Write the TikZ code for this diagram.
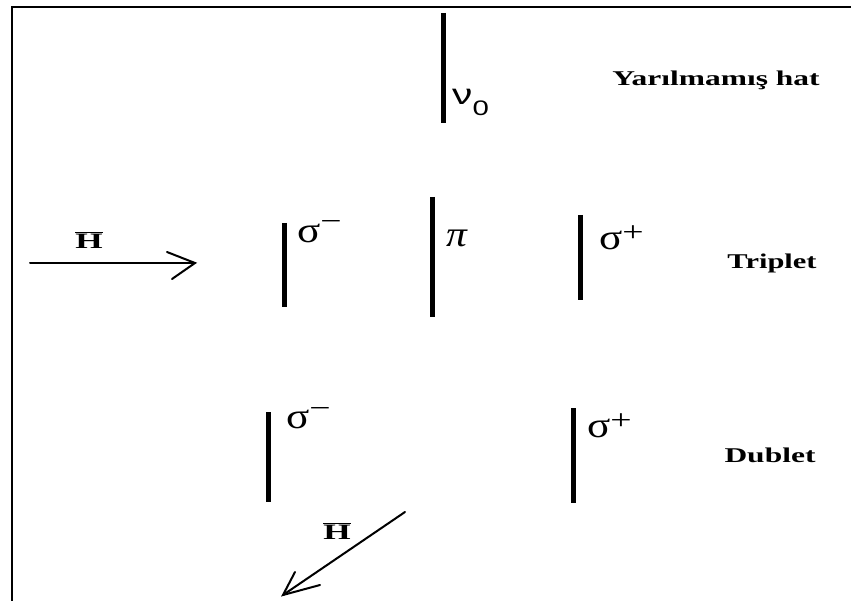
\documentclass[tikz,border=0pt]{standalone}
\usepackage{fontspec}
\setmainfont{Liberation Serif}
\newfontfamily\sansf{Liberation Sans}
\usepackage{graphicx}
\newcommand{\wide}[2][1.55]{\scalebox{#1}[1]{#2}}
\newcommand{\fieldH}{$\overline{\mbox{\bfseries H}}$}
\newcommand{\sigsup}[2]{\wide[1.2]{σ}\raisebox{#2}{\wide[1.35]{\fontsize{28}{28}\selectfont #1}}}
\begin{document}
\begin{tikzpicture}[x=1pt,y=-1pt,
  bar/.style={line width=5pt},
  framel/.style={line width=2pt},
  arr/.style={line width=2pt, line cap=round},
  lbl/.style={inner sep=0pt, font=\bfseries\fontsize{21}{21}\selectfont},
  hlbl/.style={inner sep=0pt, font=\fontsize{22}{22}\selectfont},
  greek/.style={inner sep=0pt, font=\fontsize{36}{36}\selectfont}]
\useasboundingbox (0,0) rectangle (851,601);
% frame (top and left edges)
\coordinate (fbl) at (12,601);
\coordinate (ftl) at (12,7);
\coordinate (ftr) at (851,7);
\draw[framel] (fbl) -- (ftl) -- (ftr);

% unsplit line
\coordinate (n0t) at (443,13); \coordinate (n0b) at (443,123);
\draw[bar] (n0t) -- (n0b);
\node[inner sep=0pt, anchor=base west] (nu0) at (452,105)
  {\wide[1.4]{\sansf\fontsize{29}{29}\selectfont ν\raisebox{-0.36em}{\fontsize{21}{21}\selectfont 0}}};
\node[lbl, anchor=base] (hat) at (716,86) {\wide[1.5]{Yarılmamış hat}};

% field arrow (horizontal)
\coordinate (h1s) at (30,263); \coordinate (h1e) at (195,263);
\coordinate (h1a) at (167,252); \coordinate (h1b) at (172,279);
\draw[arr] (h1s) -- (h1e);
\draw[arr] (h1a) -- (h1e) -- (h1b);
\node[hlbl] (H1) at (89,240) {\wide[1.6]{\fieldH}};

% triplet
\coordinate (tmt) at (284,223); \coordinate (tmb) at (284,307);
\draw[bar] (tmt) -- (tmb);
\node[greek, anchor=base west] (tsm) at (297,243) {\sigsup{−}{12pt}};
\coordinate (tpt) at (432,197); \coordinate (tpb) at (432,317);
\draw[bar] (tpt) -- (tpb);
\node[greek, anchor=base west] (tpi) at (446,247) {\wide[1.15]{\itshape π}};
\coordinate (tqt) at (580,215); \coordinate (tqb) at (580,300);
\draw[bar] (tqt) -- (tqb);
\node[greek, anchor=base west] (tsp) at (599,250) {\sigsup{+}{8pt}};
\node[lbl, anchor=base] (trip) at (772,269) {\wide[1.45]{Triplet}};

% doublet
\coordinate (dmt) at (268,412); \coordinate (dmb) at (268,502);
\draw[bar] (dmt) -- (dmb);
\node[greek, anchor=base west] (dsm) at (286,428) {\sigsup{−}{11pt}};
\coordinate (dqt) at (573,408); \coordinate (dqb) at (573,503);
\draw[bar] (dqt) -- (dqb);
\node[greek, anchor=base west] (dsp) at (587,437) {\sigsup{+}{8pt}};
\node[lbl, anchor=base] (dub) at (770,462) {\wide[1.5]{Dublet}};

% field arrow (diagonal)
\coordinate (h2s) at (405,512); \coordinate (h2e) at (283,595);
\coordinate (h2a) at (295,572); \coordinate (h2b) at (320,585);
\draw[arr] (h2s) -- (h2e);
\draw[arr] (h2a) -- (h2e) -- (h2b);
\node[hlbl] (H2) at (337,531) {\wide[1.6]{\fieldH}};
\end{tikzpicture}
\end{document}
